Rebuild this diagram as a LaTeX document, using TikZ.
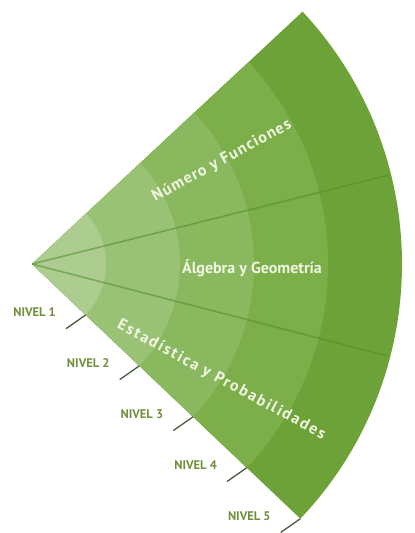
\documentclass[tikz,border=0pt]{standalone}
\usepackage{fontspec}
\setmainfont{PT Sans}
\usepackage{xcolor}
\definecolor{vizRingA}{HTML}{ACCC90}
\definecolor{vizRingB}{HTML}{99C274}
\definecolor{vizRingC}{HTML}{8AB85F}
\definecolor{vizRingD}{HTML}{7CAE4A}
\definecolor{vizRingE}{HTML}{6DA238}
\definecolor{vizDivider}{HTML}{4F8C2C}
\definecolor{vizTick}{HTML}{4B5A3E}
\definecolor{vizLevel}{HTML}{6F8F3A}
\definecolor{vizText}{HTML}{F1F6E3}
\usetikzlibrary{positioning}

\begin{document}
\begin{tikzpicture}[x=1pt, y=1pt,
  ringfill/.style={fill=#1, draw=none},
  divider/.style={vizDivider, line width=1.6pt, opacity=0.55},
  levtick/.style={vizTick, line width=1.3pt},
  levlabel/.style={inner sep=0pt, text=vizLevel, font=\bfseries\fontsize{12.5}{12.5}\selectfont},
  areatext/.style={inner sep=0pt, text=vizText, font=\bfseries\fontsize{16}{16}\selectfont}]
  \useasboundingbox (0,0) rectangle (415,533);
  \coordinate (O) at (32,269);
  % rings, outer one first
  \foreach \r/\c in {370/vizRingE, 296/vizRingD, 222/vizRingC, 148/vizRingB, 74/vizRingA}
    \fill[ringfill=\c] (O) -- ++(-43.5:\r) arc[start angle=-43.5, end angle=43, radius=\r] -- cycle;
  % dividers between the three areas
  \path (O) ++(14:368) coordinate (dUp);
  \path (O) ++(-14.5:368) coordinate (dLow);
  \draw[divider] (O) -- (dUp);
  \draw[divider] (O) -- (dLow);
  % level ticks and labels
  \foreach \i/\r in {1/74, 2/148, 3/222, 4/296, 5/370} {
    \path (O) ++(-43.5:\r) coordinate (t\i);
    \path (t\i) ++(-145:24) coordinate (e\i);
    \draw[levtick] (t\i) -- (e\i);
    \node[levlabel, above left=11.5pt and 10pt of e\i] (n\i) {NIVEL \i};
  }
  % area names
  \node[areatext, rotate=28.5] (num) at ([shift={(28.5:216)}]O) {\addfontfeature{LetterSpace=7}Número y Funciones};
  \node[areatext] (alg) at ([shift={(-1:220)}]O) {Álgebra y Geometría};
  \node[areatext, rotate=-28.4] (est) at ([shift={(-31.5:222)}]O) {\addfontfeature{LetterSpace=11}Estadística y Probabilidades};
\end{tikzpicture}
\end{document}
